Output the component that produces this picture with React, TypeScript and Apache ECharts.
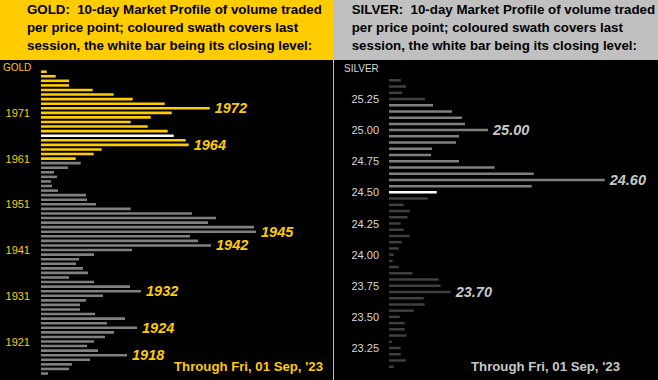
import React, { useEffect, useRef } from "react";
import * as echarts from "echarts";

// GOLD: price levels (top to bottom) and 10-day volume profile
const goldPrices = [
  "1980", "1979", "1978", "1977", "1976", "1975", "1974", "1973", "1972", "1971",
  "1970", "1969", "1968", "1967", "1966", "1965", "1964", "1963", "1962", "1961",
  "1960", "1959", "1958", "1957", "1956", "1955", "1954", "1953", "1952", "1951",
  "1950", "1949", "1948", "1947", "1946", "1945", "1944", "1943", "1942", "1941",
  "1940", "1939", "1938", "1937", "1936", "1935", "1934", "1933", "1932", "1931",
  "1930", "1929", "1928", "1927", "1926", "1925", "1924", "1923", "1922", "1921",
  "1920", "1919", "1918", "1917", "1916", "1915", "1914",
];
const goldVolume = [
  5.7, 14.7, 28, 28, 51.7, 72.7, 91.7, 123.7, 168.7, 130.7,
  109.7, 89.7, 106.7, 126.7, 132.7, 144.7, 147.7, 60.7, 52.7, 34.7,
  39.7, 27, 13, 16, 10, 11, 17, 45, 46, 55,
  89.7, 151, 175, 167, 213, 215, 149, 157, 170, 91,
  53, 38, 35, 42, 47, 28, 53, 89, 100, 62,
  45, 39, 39, 54, 84, 66, 96, 73, 64, 53,
  46, 57, 86, 49, 31, 28, 7,
];
const goldTicks = ["1971", "1961", "1951", "1941", "1931", "1921"];
const goldSession = ["1980", "1979", "1978", "1977", "1976", "1975", "1974", "1973", "1972", "1971",
  "1970", "1969", "1968", "1967", "1966", "1965", "1964", "1963", "1962", "1961"];
const goldClose = "1966";
const goldMarked = ["1972", "1964", "1945", "1942", "1932", "1924", "1918"];

// SILVER
const silverPrices = [
  "25.40", "25.35", "25.30", "25.25", "25.20", "25.15", "25.10", "25.05", "25.00", "24.95",
  "24.90", "24.85", "24.80", "24.75", "24.70", "24.65", "24.60", "24.55", "24.50", "24.45",
  "24.40", "24.35", "24.30", "24.25", "24.20", "24.15", "24.10", "24.05", "24.00", "23.95",
  "23.90", "23.85", "23.80", "23.75", "23.70", "23.65", "23.60", "23.55", "23.50", "23.45",
  "23.40", "23.35", "23.30", "23.25", "23.20", "23.15", "23.10",
];
const silverVolume = [
  12, 17, 13, 36, 44, 63, 73, 76, 99, 70,
  67, 43, 42, 70, 105.7, 144.7, 215.7, 142.7, 47.7, 38.7,
  14.7, 20.7, 18.7, 11.7, 14.7, 20.7, 12.7, 9.7, 4.7, 3.7,
  9.7, 23.7, 49.7, 51.7, 61.7, 34.7, 35.7, 24.7, 10.7, 15.7,
  15.7, 17.7, 2.7, 11.7, 11.7, 16.7, 4.7,
];
const silverTicks = ["25.25", "25.00", "24.75", "24.50", "24.25", "24.00", "23.75", "23.50", "23.25"];
const silverSession = ["25.20", "25.15", "25.10", "25.05", "25.00", "24.95", "24.90", "24.85", "24.80",
  "24.75", "24.70", "24.65", "24.60", "24.55", "24.50"];
const silverClose = "24.50";
const silverMarked = ["25.00", "24.60", "23.70"];

const FONT = '"Liberation Sans", Arial, Helvetica, sans-serif';
const GOLD = "#FFCC00";
const GREY = "#808080";
const DARK = "#404040";
const SILVER_TXT = "#C8C8C8";

function buildData(prices: string[], vols: number[], session: string[], close: string,
  marked: string[], sessColor: string, oldColor: string, labelColor: string) {
  return prices.map((p, i) => {
    const color = p === close ? "#FFFFFF" : session.includes(p) ? sessColor : oldColor;
    const item: any = { value: vols[i], itemStyle: { color } };
    if (marked.includes(p)) {
      item.label = {
        show: true,
        position: "right",
        distance: 5,
        formatter: p,
        color: labelColor,
        fontSize: 14.5,
        fontWeight: "bold",
        fontStyle: "italic",
        fontFamily: FONT,
      };
    }
    return item;
  });
}

function txt(text: string, x: number, y: number, fill: string, size: number, weight: string, align: string) {
  return {
    type: "text",
    x,
    y,
    silent: true,
    style: {
      text,
      fill,
      font: `${weight} ${size}px ${FONT}`,
      textAlign: align,
      align,
      textVerticalAlign: "middle",
      verticalAlign: "middle",
    },
  };
}

export default function App() {
  const ref = useRef<HTMLDivElement>(null);
  useEffect(() => {
    const chart = echarts.init(ref.current!, null, { renderer: "svg" });
    const option: any = {
      animation: false,
      backgroundColor: "#000000",
      grid: [
        { left: 41, top: 69.4, width: 280, height: 306.4 },
        { left: 389, top: 77.2, width: 260, height: 292.6 },
      ],
      xAxis: [
        { gridIndex: 0, type: "value", min: 0, max: 280, show: false },
        { gridIndex: 1, type: "value", min: 0, max: 260, show: false },
      ],
      yAxis: [
        {
          gridIndex: 0,
          type: "category",
          data: goldPrices,
          inverse: true,
          axisLine: { show: false },
          axisTick: { show: false },
          splitLine: { show: false },
          axisLabel: {
            interval: (_i: number, v: string) => goldTicks.includes(v),
            color: GOLD,
            fontSize: 11,
            margin: 11,
            fontFamily: FONT,
          },
        },
        {
          gridIndex: 1,
          type: "category",
          data: silverPrices,
          inverse: true,
          axisLine: { show: false },
          axisTick: { show: false },
          splitLine: { show: false },
          axisLabel: {
            interval: (_i: number, v: string) => silverTicks.includes(v),
            color: "#D8D8D8",
            fontSize: 11,
            margin: 10,
            fontFamily: FONT,
          },
        },
      ],
      series: [
        {
          type: "bar",
          xAxisIndex: 0,
          yAxisIndex: 0,
          barWidth: 2.6,
          data: buildData(goldPrices, goldVolume, goldSession, goldClose, goldMarked, GOLD, GREY, GOLD),
        },
        {
          type: "bar",
          xAxisIndex: 1,
          yAxisIndex: 1,
          barWidth: 2.5,
          data: buildData(silverPrices, silverVolume, silverSession, silverClose, silverMarked, GREY, DARK, SILVER_TXT),
        },
      ],
      graphic: [
        { type: "rect", silent: true, shape: { x: 0, y: 0, width: 333, height: 60 }, style: { fill: GOLD } },
        { type: "rect", silent: true, shape: { x: 333, y: 0, width: 325, height: 60 }, style: { fill: "#C0C0C0" } },
        { type: "line", silent: true, shape: { x1: 333.5, y1: 60, x2: 333.5, y2: 380 }, style: { stroke: "#C0C0C0", lineWidth: 1 } },
        txt("GOLD:  10-day Market Profile of volume traded", 27, 9.7, "#000000", 13.3, "bold", "left"),
        txt("per price point; coloured swath covers last", 27, 27.6, "#000000", 13.3, "bold", "left"),
        txt("session, the white bar being its closing level:", 27, 45.4, "#000000", 13.3, "bold", "left"),
        txt("SILVER:  10-day Market Profile of volume traded", 351.7, 9.7, "#000000", 13.3, "bold", "left"),
        txt("per price point; coloured swath covers last", 351.7, 27.6, "#000000", 13.3, "bold", "left"),
        txt("session, the white bar being its closing level:", 351.7, 45.4, "#000000", 13.3, "bold", "left"),
        txt("GOLD", 3, 67, GOLD, 10, "normal", "left"),
        txt("SILVER", 344, 68.3, "#D8D8D8", 10, "normal", "left"),
        txt("Through Fri, 01 Sep, '23", 323, 366.7, GOLD, 13.2, "bold", "right"),
        txt("Through Fri, 01 Sep, '23", 620, 366.7, SILVER_TXT, 13.2, "bold", "right"),
      ],
    };
    chart.setOption(option);
    return () => chart.dispose();
  }, []);
  return (
    <div
      ref={ref}
      style={{ position: "fixed", left: 0, top: 0, width: 658, height: 380 }}
    />
  );
}
